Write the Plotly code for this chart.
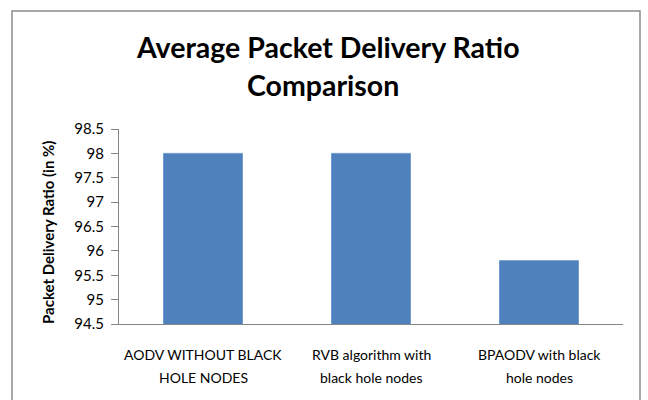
import plotly.graph_objects as go

# Average packet delivery ratio per routing scheme
categories = [
    "AODV WITHOUT BLACK<br>HOLE NODES",
    "RVB algorithm with<br>black hole nodes",
    "BPAODV with black<br>hole nodes",
]
pdr_values = [98.0, 98.0, 95.8]
y_ticks = [94.5, 95, 95.5, 96, 96.5, 97, 97.5, 98, 98.5]
y_tick_text = ["94.5", "95", "95.5", "96", "96.5", "97", "97.5", "98", "98.5"]
title_lines = ["Average Packet Delivery Ratio", "Comparison"]
y_title = "Packet Delivery Ratio (in %)"

font_family = "Lato, 'Open Sans', sans-serif"
axis_grey = "#868686"

# plot-area geometry in pixels (used to place paper-referenced items)
L, R, T, B = 119, 623, 129, 324
W, H = R - L, B - T


def px_x(px):
    return (px - L) / W


def px_y(py):
    return (B - py) / H


fig = go.Figure(
    go.Bar(
        x=categories,
        y=pdr_values,
        marker=dict(color="#4F81BD", line=dict(color="#6f9bd0", width=1)),
        width=0.47,
    )
)

fig.update_layout(
    width=648,
    height=400,
    margin=dict(l=L, r=648 - R, t=T, b=400 - B),
    paper_bgcolor="white",
    plot_bgcolor="white",
    showlegend=False,
    font=dict(family=font_family, color="#000000", size=14),
)

fig.update_yaxes(
    range=[94.5, 98.5],
    tickvals=y_ticks,
    ticktext=y_tick_text,
    showgrid=False,
    zeroline=False,
    showline=True,
    linecolor=axis_grey,
    linewidth=1,
    ticks="outside",
    ticklen=7,
    tickcolor=axis_grey,
    ticklabelstandoff=4,
    tickfont=dict(size=15, family=font_family, color="#000000"),
)

fig.update_xaxes(
    showgrid=False,
    showline=True,
    linecolor=axis_grey,
    linewidth=1,
    ticks="",
    showticklabels=False,
)

# Category labels, one annotation per text line for Excel-like spacing
for cat in categories:
    for i, line in enumerate(cat.split("<br>")):
        fig.add_annotation(
            text=line,
            xref="x", yref="paper",
            x=cat, y=px_y(354 + 23 * i),
            showarrow=False, xanchor="center", yanchor="middle",
            font=dict(size=14, family=font_family, color="#000000"),
        )

# Two-line chart title
for text, cx, cy in zip(title_lines, [328, 323], [47.5, 85]):
    fig.add_annotation(
        text=f"<b>{text}</b>",
        xref="paper", yref="paper",
        x=px_x(cx), y=px_y(cy),
        showarrow=False, xanchor="center", yanchor="middle",
        font=dict(size=28.5, family=font_family, color="#000000"),
    )

# Rotated value-axis title
fig.add_annotation(
    text=f"<b>{y_title}</b>",
    xref="paper", yref="paper",
    x=px_x(48), y=px_y(233),
    textangle=-90,
    showarrow=False, xanchor="center", yanchor="middle",
    font=dict(size=15, family=font_family, color="#000000"),
)

# Chart area border
fig.add_shape(
    type="rect",
    xref="paper", yref="paper",
    x0=px_x(12), x1=px_x(640),
    y0=px_y(420), y1=px_y(11),
    line=dict(color="#8c8c8c", width=1.5),
    fillcolor="rgba(0,0,0,0)",
    layer="below",
)

fig.write_html("out.html")
